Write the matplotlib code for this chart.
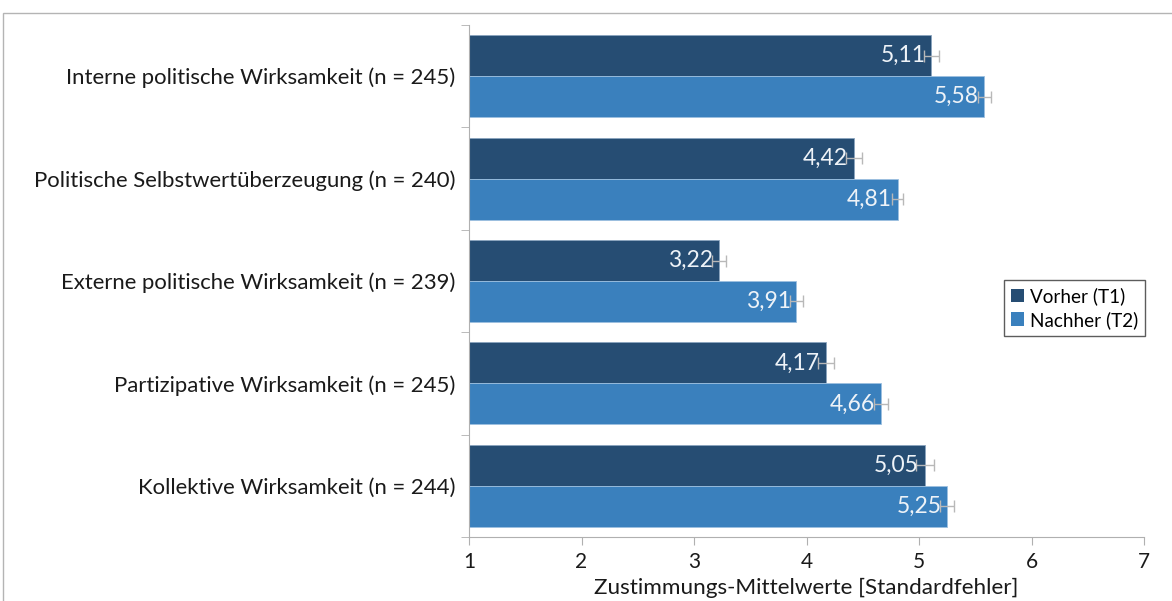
import numpy as np
import matplotlib.pyplot as plt
from matplotlib.patches import Rectangle

plt.rcParams['font.family'] = ['Lato', 'DejaVu Sans']

categories = [
    "Interne politische Wirksamkeit (n = 245)",
    "Politische Selbstwertüberzeugung (n = 240)",
    "Externe politische Wirksamkeit (n = 239)",
    "Partizipative Wirksamkeit (n = 245)",
    "Kollektive Wirksamkeit (n = 244)",
]
vorher = [5.11, 4.42, 3.22, 4.17, 5.05]
nachher = [5.58, 4.81, 3.91, 4.66, 5.25]
se_vorher = [0.07, 0.07, 0.06, 0.07, 0.08]
se_nachher = [0.06, 0.05, 0.06, 0.06, 0.06]
series_names = ["Vorher (T1)", "Nachher (T2)"]

dark = "#264d73"
light = "#3a80bd"
axis_gray = "#b0b0b0"

fig = plt.figure(figsize=(11.72, 6.01), dpi=100)
ax = fig.add_axes([469 / 1172, 1 - 537 / 601, (1144 - 469) / 1172, (537 - 25) / 601])

# outer chart frame (only left/top visible)
fig.patches.append(Rectangle((3 / 1172, -0.1), 1.2, 1 - 13 / 601 + 0.1,
                             transform=fig.transFigure, fill=False,
                             edgecolor="#b4b4b4", linewidth=1.0))

y = np.arange(len(categories))
h = 0.4
base = 1

ax.barh(y - h / 2, np.array(vorher) - base, left=base, height=h, color=dark,
        edgecolor="#8aa4bf", linewidth=0.6, label=series_names[0])
ax.barh(y + h / 2, np.array(nachher) - base, left=base, height=h, color=light,
        edgecolor="#9cc0e0", linewidth=0.6, label=series_names[1])

ax.errorbar(vorher, y - h / 2, xerr=se_vorher, fmt='none', ecolor="#b8b8b8",
            elinewidth=1.0, capsize=4, capthick=1.0)
ax.errorbar(nachher, y + h / 2, xerr=se_nachher, fmt='none', ecolor="#b8b8b8",
            elinewidth=1.0, capsize=4, capthick=1.0)

for yi, v in zip(y, vorher):
    ax.text(v - 0.05, yi - h / 2, f"{v:.2f}".replace(".", ","), ha='right',
            va='center', color="#eef3f8", fontsize=16.5)
for yi, v in zip(y, nachher):
    ax.text(v - 0.05, yi + h / 2, f"{v:.2f}".replace(".", ","), ha='right',
            va='center', color="#eef3f8", fontsize=16.5)

ax.set_xlim(1, 7)
ax.set_ylim(len(categories) - 0.5, -0.5)
ax.set_xticks(range(1, 8))
ax.set_yticks(y)
ax.set_yticklabels(categories, fontsize=15.9, color="#1a1a1a")
ax.set_yticks(np.arange(-0.5, len(categories)), minor=True)
ax.tick_params(axis='y', which='major', length=0, pad=10)
ax.tick_params(axis='y', which='minor', length=6, color=axis_gray)
ax.tick_params(axis='x', length=6, color=axis_gray, labelsize=15,
               labelcolor="#1a1a1a", pad=5)
ax.set_xlabel("Zustimmungs-Mittelwerte [Standardfehler]", fontsize=16.2,
              color="#1a1a1a", labelpad=4)

for side in ['top', 'right']:
    ax.spines[side].set_visible(False)
for side in ['left', 'bottom']:
    ax.spines[side].set_color(axis_gray)

leg = ax.legend(loc='upper left', bbox_to_anchor=((1004 - 469) / 675, 1 - (280 - 25) / 512),
                fontsize=13.6, frameon=True, fancybox=False, handlelength=0.7,
                handleheight=0.7, handletextpad=0.3, borderpad=0.38,
                labelspacing=0.3, borderaxespad=0)
leg.get_frame().set_edgecolor("#333333")
leg.get_frame().set_linewidth(1.0)
for p in leg.get_patches():
    p.set_edgecolor('none')

fig.savefig("out.png", dpi=100)
